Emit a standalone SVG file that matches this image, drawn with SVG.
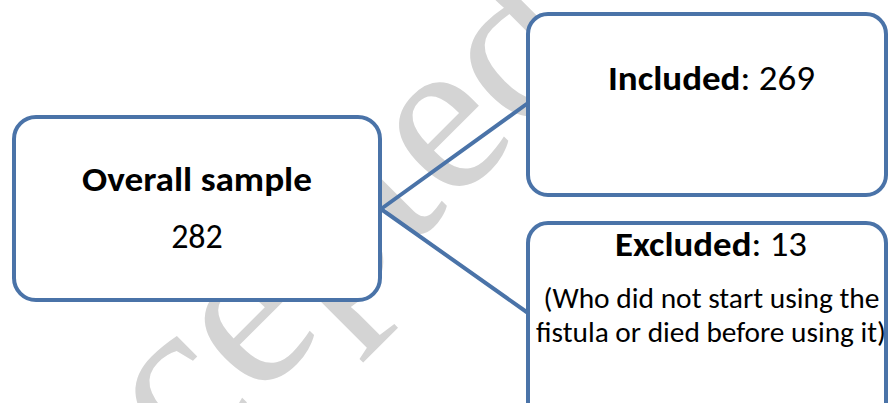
<svg xmlns="http://www.w3.org/2000/svg" width="889" height="403" viewBox="0 0 889 403">
<style>
.box{fill:#ffffff;stroke:#4A73A8;stroke-width:4}
.edge{stroke:#4A73A8;stroke-width:4;fill:none;stroke-linecap:round}
.t{font-family:Carlito,Lato,"Liberation Sans",sans-serif;fill:#000000;text-anchor:middle}
.big{font-size:34px}
.small{font-size:28px}
.b{font-weight:bold}
.wm{font-family:"Liberation Serif","Times New Roman",serif;font-size:225px;fill:#d4d4d4}
</style>
<rect width="889" height="403" fill="#ffffff"/>
<text class="wm" transform="translate(0,658) rotate(-45)">Accepted</text>
<g id="connectors">
<line class="edge" x1="381" y1="209" x2="528" y2="103"/>
<line class="edge" x1="381" y1="209" x2="528" y2="313"/>
</g>
<g id="overall">
<rect class="box" x="14" y="117" width="366" height="183" rx="22"/>
<text class="t big b" x="197" y="191" textLength="230" lengthAdjust="spacingAndGlyphs">Overall sample</text>
<text class="t big" x="197" y="248">282</text>
</g>
<g id="included">
<rect class="box" x="528" y="14" width="358" height="181" rx="20"/>
<text class="t big" x="711.5" y="90" textLength="207" lengthAdjust="spacingAndGlyphs"><tspan class="b">Included</tspan>: 269</text>
</g>
<g id="excluded">
<rect class="box" x="528" y="223" width="358" height="200" rx="20"/>
<text class="t big" x="711" y="256" textLength="192" lengthAdjust="spacingAndGlyphs"><tspan class="b">Excluded</tspan>: 13</text>
<text class="t small" x="711.5" y="308" textLength="336" lengthAdjust="spacingAndGlyphs">(Who did not start using the</text>
<text class="t small" x="711" y="342" textLength="350" lengthAdjust="spacingAndGlyphs">fistula or died before using it)</text>
</g>
</svg>
